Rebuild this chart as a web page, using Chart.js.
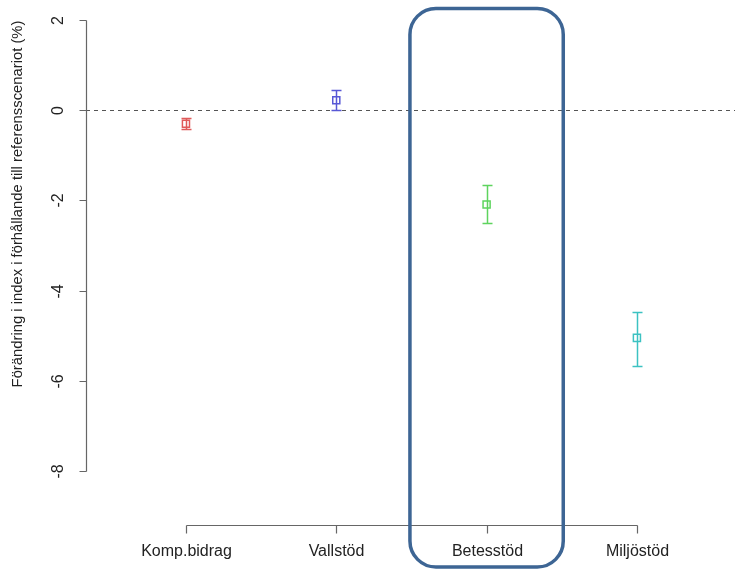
<!DOCTYPE html>
<html>
<head>
<meta charset="utf-8">
<script src="https://cdn.jsdelivr.net/npm/chart.js@4"></script>
<style>
  html, body { margin: 0; padding: 0; background: #fff; }
</style>
</head>
<body>
<canvas id="chart" width="735" height="572"></canvas>
<script>
// values
const categories = ["Komp.bidrag", "Vallstöd", "Betesstöd", "Miljöstöd"];
const estimates = [-0.30, 0.22, -2.09, -5.05];
const lower = [-0.42, 0.00, -2.50, -5.67];
const upper = [-0.18, 0.44, -1.67, -4.48];
const colors = ["#e05a5a", "#5858d6", "#5ed45e", "#3cc2c2"];
const yTicks = [2, 0, -2, -4, -6, -8];
const highlighted = "Betesstöd";
const yTitle = "Förändring i index i förhållande till referensscenariot (%)";

const labelFont = '16px "Liberation Sans", Arial, sans-serif';
const titleFont = '14.8px "Liberation Sans", Arial, sans-serif';

// R-style detached axes, error bars, reference line and highlight box
const rPlot = {
    id: "rPlot",
    beforeDatasetsDraw(chart) {
        const ctx = chart.ctx;
        const area = chart.chartArea;
        const xs = chart.scales.x;
        const ys = chart.scales.y;
        const px = v => Math.round(xs.getPixelForValue(v)) + 0.5;
        const py = v => Math.round(ys.getPixelForValue(v)) + 0.5;

        ctx.save();
        // dashed zero line
        ctx.strokeStyle = "#555";
        ctx.lineWidth = 1;
        ctx.setLineDash([4, 4]);
        ctx.beginPath();
        ctx.moveTo(area.left, py(0));
        ctx.lineTo(chart.width, py(0));
        ctx.stroke();
        ctx.setLineDash([]);

        // error bars
        categories.forEach((c, i) => {
            const x = px(i + 1);
            ctx.strokeStyle = colors[i];
            ctx.lineWidth = 1.5;
            ctx.beginPath();
            ctx.moveTo(x, py(lower[i]));
            ctx.lineTo(x, py(upper[i]));
            ctx.moveTo(x - 5, py(lower[i]));
            ctx.lineTo(x + 5, py(lower[i]));
            ctx.moveTo(x - 5, py(upper[i]));
            ctx.lineTo(x + 5, py(upper[i]));
            ctx.stroke();
        });

        // y axis
        ctx.strokeStyle = "#666";
        ctx.lineWidth = 1.2;
        const ax = Math.round(area.left) + 0.5;
        ctx.beginPath();
        ctx.moveTo(ax, py(yTicks[0]));
        ctx.lineTo(ax, py(yTicks[yTicks.length - 1]));
        yTicks.forEach(t => {
            ctx.moveTo(ax, py(t));
            ctx.lineTo(ax - 7, py(t));
        });
        ctx.stroke();
        ctx.fillStyle = "#222";
        ctx.font = labelFont;
        ctx.textAlign = "center";
        ctx.textBaseline = "middle";
        yTicks.forEach(t => {
            ctx.save();
            ctx.translate(ax - 28, py(t));
            ctx.rotate(-Math.PI / 2);
            ctx.fillText(String(t), 0, 0);
            ctx.restore();
        });
        ctx.save();
        ctx.font = titleFont;
        ctx.translate(18, 204);
        ctx.rotate(-Math.PI / 2);
        ctx.fillText(yTitle, 0, 0);
        ctx.restore();

        // x axis
        const ay = Math.round(area.bottom) + 0.5;
        ctx.beginPath();
        ctx.moveTo(px(1), ay);
        ctx.lineTo(px(categories.length), ay);
        categories.forEach((c, i) => {
            ctx.moveTo(px(i + 1), ay);
            ctx.lineTo(px(i + 1), ay + 8);
        });
        ctx.stroke();
        categories.forEach((c, i) => {
            ctx.fillText(c, px(i + 1), ay + 26);
        });
        ctx.restore();
    },
    afterDraw(chart) {
        const ctx = chart.ctx;
        const xs = chart.scales.x;
        const pos = categories.indexOf(highlighted) + 1;
        const left = xs.getPixelForValue(pos - 0.51);
        const right = xs.getPixelForValue(pos + 0.51);
        const top = chart.chartArea.top + 2;
        const bottom = chart.height - 5;
        ctx.save();
        ctx.strokeStyle = "#3d6594";
        ctx.lineWidth = 3.5;
        ctx.beginPath();
        ctx.roundRect(left, top, right - left, bottom - top, 26);
        ctx.stroke();
        ctx.restore();
    }
};

new Chart(document.getElementById("chart"), {
    type: "scatter",
    data: {
        datasets: [{
            data: categories.map((c, i) => ({ x: i + 1, y: estimates[i] })),
            pointStyle: "rect",
            pointRadius: 5,
            pointBorderWidth: 1.5,
            pointBackgroundColor: "rgba(255,255,255,0)",
            pointBorderColor: colors
        }]
    },
    options: {
        responsive: false,
        animation: false,
        layout: { padding: { left: 86, right: 10, top: 4, bottom: 47 } },
        plugins: { legend: { display: false }, tooltip: { enabled: false } },
        scales: {
            x: { type: "linear", min: 0.335, max: 4.586, display: false },
            y: { type: "linear", min: -9.2, max: 2.3, display: false }
        }
    },
    plugins: [rPlot]
});
</script>
</body>
</html>
